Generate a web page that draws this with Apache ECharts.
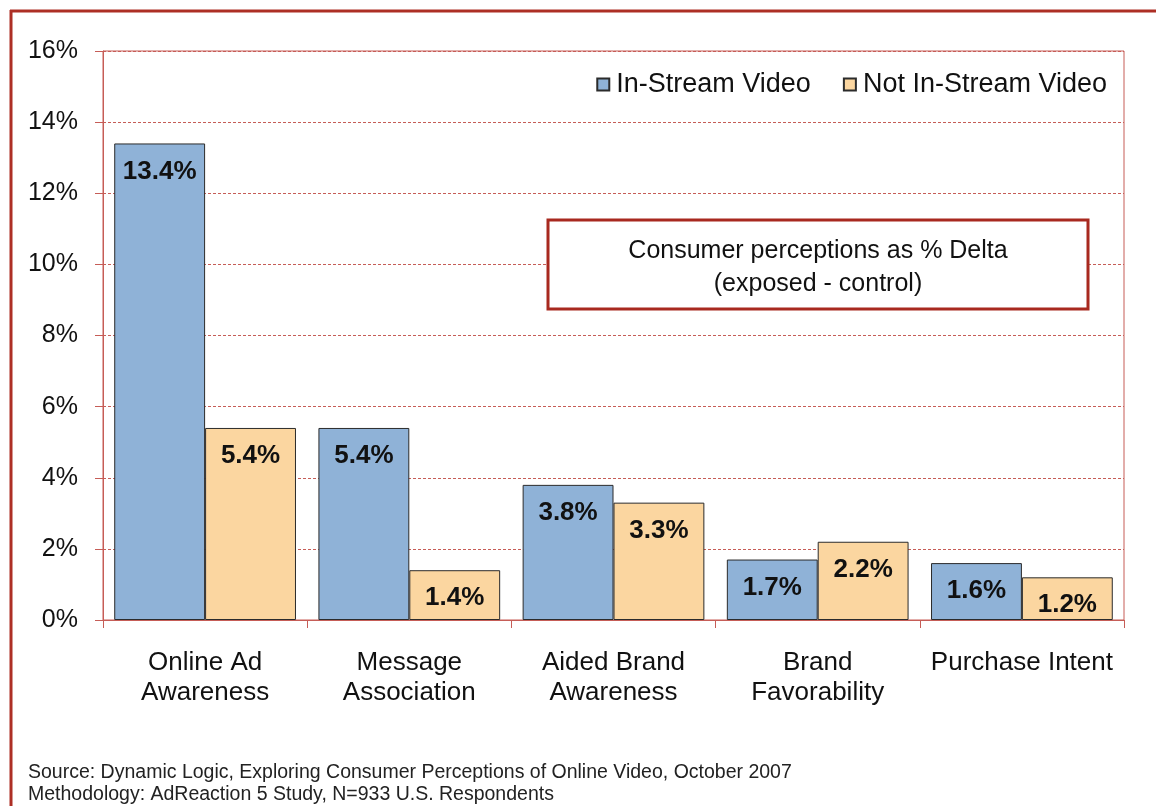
<!DOCTYPE html>
<html>
<head>
<meta charset="utf-8">
<script src="https://cdn.jsdelivr.net/npm/echarts@6/dist/echarts.min.js"></script>
<style>
  html, body { margin: 0; padding: 0; background: #fff; }
  #chart { width: 1156px; height: 806px; }
</style>
</head>
<body>
<div id="chart"></div>
<script>
const categories = ['Online Ad\nAwareness', 'Message\nAssociation', 'Aided Brand\nAwareness', 'Brand\nFavorability', 'Purchase Intent'];
const inStream = [13.4, 5.4, 3.8, 1.7, 1.6];
const notInStream = [5.4, 1.4, 3.3, 2.2, 1.2];
const seriesNames = ['In-Stream Video', 'Not In-Stream Video'];
const yTicks = [0, 2, 4, 6, 8, 10, 12, 14, 16];

const FONT = '"Liberation Sans", Arial, sans-serif';
const AXIS_RED = '#c65d57';
const FRAME_RED = '#ad2f25';

const chart = echarts.init(document.getElementById('chart'));

const barLabel = {
    show: true,
    position: 'insideTop',
    distance: 15,
    fontFamily: FONT,
    fontSize: 26,
    fontWeight: 'bold',
    color: '#111',
    formatter: p => p.value.toFixed(1) + '%'
};

const option = {
    animation: false,
    textStyle: { fontFamily: FONT },
    grid: {
        left: 103, right: 32, top: 51, bottom: 186,
        show: true, borderColor: AXIS_RED, borderWidth: 1
    },
    legend: {
        data: seriesNames,
        right: 44, top: 66,
        itemWidth: 12, itemHeight: 12, itemGap: 32,
        icon: 'rect',
        textStyle: { fontFamily: FONT, fontSize: 27, color: '#111', padding: [0, 0, 0, 2] }
    },
    xAxis: {
        type: 'category',
        data: categories,
        axisLine: { lineStyle: { color: AXIS_RED, width: 1 } },
        axisTick: { show: true, length: 8, lineStyle: { color: AXIS_RED } },
        axisLabel: { fontFamily: FONT, fontSize: 26, color: '#111', lineHeight: 30, margin: 28, interval: 0 }
    },
    yAxis: {
        type: 'value',
        min: 0, max: yTicks[yTicks.length - 1], interval: 2,
        axisLine: { show: true, lineStyle: { color: AXIS_RED, width: 1 } },
        axisTick: { show: true, length: 8, lineStyle: { color: AXIS_RED } },
        axisLabel: { fontFamily: FONT, fontSize: 25, color: '#111', margin: 25, formatter: v => v + '%' },
        splitLine: { show: true, lineStyle: { color: AXIS_RED, type: [3, 2], width: 1 } }
    },
    series: [
        {
            name: seriesNames[0],
            type: 'bar',
            data: inStream,
            barGap: '0%',
            barCategoryGap: '11%',
            itemStyle: { color: '#8fb2d7', borderColor: '#2b2b2b', borderWidth: 1 },
            label: barLabel
        },
        {
            name: seriesNames[1],
            type: 'bar',
            data: notInStream,
            barGap: '0%',
            barCategoryGap: '11%',
            itemStyle: { color: '#fbd6a0', borderColor: '#2b2b2b', borderWidth: 1 },
            label: barLabel
        }
    ],
    graphic: [
        // outer frame (top and left)
        { type: 'line', shape: { x1: 10, y1: 11, x2: 1156, y2: 11 }, style: { stroke: FRAME_RED, lineWidth: 3 } },
        { type: 'line', shape: { x1: 11, y1: 10, x2: 11, y2: 806 }, style: { stroke: FRAME_RED, lineWidth: 3 } },
        // annotation box
        {
            type: 'rect', shape: { x: 548, y: 220, width: 540, height: 89 },
            style: { fill: '#fff', stroke: '#a8291f', lineWidth: 3 }, z: 10
        },
        {
            type: 'text', x: 818, y: 268, z: 11,
            style: {
                text: 'Consumer perceptions as % Delta\n(exposed - control)',
                fontFamily: FONT, fontSize: 25, lineHeight: 33, fill: '#111',
                align: 'center', verticalAlign: 'middle'
            }
        },
        // source footnote
        {
            type: 'text', x: 28, y: 762,
            style: {
                text: 'Source: Dynamic Logic, Exploring Consumer Perceptions of Online Video, October 2007\nMethodology: AdReaction 5 Study, N=933 U.S. Respondents',
                fontFamily: FONT, fontSize: 19.5, lineHeight: 22, fill: '#222'
            }
        }
    ]
};

chart.setOption(option);
</script>
</body>
</html>
